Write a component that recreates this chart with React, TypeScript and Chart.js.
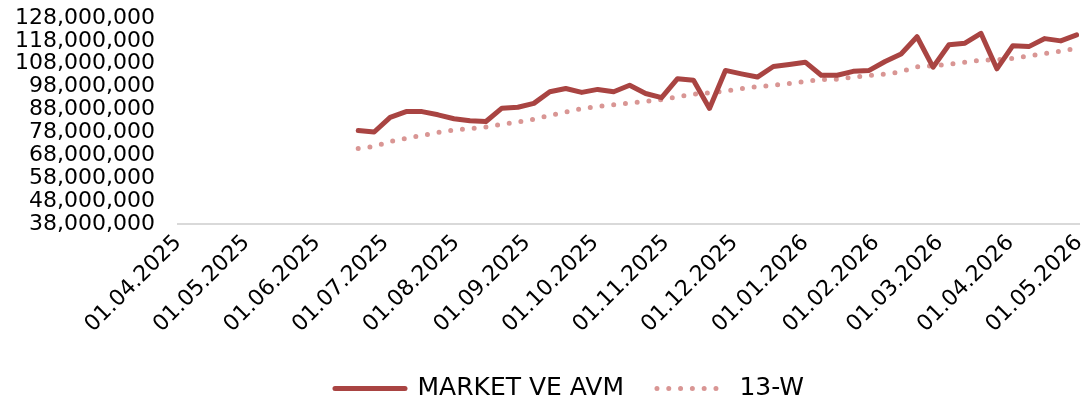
import React, { useEffect, useRef } from 'react';
import { Chart, registerables } from 'chart.js';

Chart.register(...registerables);

const weekDates = [
  '2025-06-19', '2025-06-26', '2025-07-03', '2025-07-10', '2025-07-17', '2025-07-24', '2025-07-31',
  '2025-08-07', '2025-08-14', '2025-08-21', '2025-08-28', '2025-09-04', '2025-09-11', '2025-09-18',
  '2025-09-25', '2025-10-02', '2025-10-09', '2025-10-16', '2025-10-23', '2025-10-30', '2025-11-06',
  '2025-11-13', '2025-11-20', '2025-11-27', '2025-12-04', '2025-12-11', '2025-12-18', '2025-12-25',
  '2026-01-01', '2026-01-08', '2026-01-15', '2026-01-22', '2026-01-29', '2026-02-05', '2026-02-12',
  '2026-02-19', '2026-02-26', '2026-03-05', '2026-03-12', '2026-03-19', '2026-03-26', '2026-04-02',
  '2026-04-09', '2026-04-16', '2026-04-23', '2026-04-30',
];

const marketVeAvm = [
  78800000, 78200000, 84600000, 87100000, 87100000, 85700000, 84000000,
  83100000, 82800000, 88600000, 89000000, 90700000, 95800000, 97200000,
  95500000, 96800000, 95800000, 98600000, 95000000, 93200000, 101500000,
  100800000, 88500000, 105100000, 103600000, 102200000, 106800000, 107700000,
  108700000, 103000000, 103000000, 104700000, 105100000, 109000000, 112300000,
  119800000, 106500000, 116300000, 117000000, 121300000, 105800000, 115900000,
  115500000, 119000000, 118000000, 120600000,
];

const avg13W = [
  71000000, 71800000, 74000000, 75400000, 76700000, 78000000, 79100000,
  79700000, 80400000, 81500000, 82600000, 83800000, 85400000, 86900000,
  88400000, 89300000, 90100000, 90900000, 91600000, 92300000, 93600000,
  94700000, 95300000, 96100000, 97100000, 98000000, 98600000, 99400000,
  100300000, 101100000, 101300000, 102100000, 102900000, 103500000, 104500000,
  106700000, 107100000, 107800000, 108700000, 109600000, 109800000, 110400000,
  111400000, 112500000, 113500000, 114800000,
];

const monthTicks = [
  '2025-04-01', '2025-05-01', '2025-06-01', '2025-07-01', '2025-08-01', '2025-09-01', '2025-10-01',
  '2025-11-01', '2025-12-01', '2026-01-01', '2026-02-01', '2026-03-01', '2026-04-01', '2026-05-01',
];

const yTicks = [
  38000000, 48000000, 58000000, 68000000, 78000000, 88000000, 98000000, 108000000, 118000000, 128000000,
];

const seriesNames = ['MARKET VE AVM', '13-W'];
const seriesColors = ['#A94442', '#D99694'];
const DOTS = [0, 11.8];

const FONT = 'DejaVu Sans';

const dayNum = (s: string) =>
  Date.UTC(+s.slice(0, 4), +s.slice(5, 7) - 1, +s.slice(8, 10)) / 86400000;
const fmtDate = (s: string) => `${s.slice(8, 10)}.${s.slice(5, 7)}.${s.slice(0, 4)}`;

const legendShift = {
  id: 'legendShift',
  afterLayout(chart: any) {
    const lg = chart.legend;
    if (!lg) return;
    lg.top += 4;
    lg.bottom += 4;
    lg.left += 25;
    lg.right += 25;
  },
};

export default function App() {
  const ref = useRef<HTMLCanvasElement>(null);

  useEffect(() => {
    document.body.style.margin = '0';
    const canvas = ref.current;
    if (!canvas) return;
    const tickLabelByDay: Record<number, string> = {};
    monthTicks.forEach((m) => {
      tickLabelByDay[dayNum(m)] = fmtDate(m);
    });

    const chart = new Chart(canvas, {
      type: 'line',
      plugins: [legendShift],
      data: {
        datasets: [
          {
            label: seriesNames[0],
            data: weekDates.map((d, i) => ({ x: dayNum(d), y: marketVeAvm[i] })),
            borderColor: seriesColors[0],
            backgroundColor: seriesColors[0],
            borderWidth: 5,
            borderCapStyle: 'round',
            borderJoinStyle: 'round',
            pointRadius: 0,
            tension: 0,
          },
          {
            label: seriesNames[1],
            data: weekDates.map((d, i) => ({ x: dayNum(d), y: avg13W[i] })),
            borderColor: seriesColors[1],
            backgroundColor: seriesColors[1],
            borderWidth: 5,
            borderDash: DOTS,
            borderCapStyle: 'round',
            pointRadius: 0,
            tension: 0,
          },
        ],
      },
      options: {
        animation: false,
        responsive: false,
        layout: { padding: { top: 0, right: 0, left: 0, bottom: 0 } },
        plugins: {
          tooltip: { enabled: false },
          legend: {
            position: 'bottom',
            labels: {
              usePointStyle: true,
              pointStyle: 'line',
              pointStyleWidth: 70,
              boxHeight: 20,
              padding: 33,
              color: '#000',
              font: { family: FONT, size: 25 },
              generateLabels: () =>
                seriesNames.map((name, i) => ({
                  text: name,
                  datasetIndex: i,
                  fillStyle: seriesColors[i],
                  strokeStyle: seriesColors[i],
                  lineWidth: 5,
                  lineCap: 'round',
                  lineDash: i === 1 ? DOTS : [],
                  pointStyle: 'line',
                  hidden: false,
                  fontColor: '#000',
                })),
            },
          },
        },
        scales: {
          x: {
            type: 'linear',
            min: dayNum(monthTicks[0]),
            max: dayNum(monthTicks[monthTicks.length - 1]),
            afterBuildTicks: (s: any) => {
              s.ticks = monthTicks.map((m) => ({ value: dayNum(m) }));
            },
            afterFit: (s: any) => {
              s.height = 115;
              s.paddingRight = 10;
            },
            grid: { display: false, drawTicks: false },
            border: { display: true, color: '#D9D9D9', width: 2 },
            ticks: {
              autoSkip: false,
              minRotation: 45,
              maxRotation: 45,
              padding: 6,
              color: '#000',
              font: { family: FONT, size: 22 },
              callback: (v: any) => tickLabelByDay[v] ?? '',
            },
          },
          y: {
            min: yTicks[0],
            max: yTicks[yTicks.length - 1],
            afterBuildTicks: (s: any) => {
              s.ticks = yTicks.map((v) => ({ value: v }));
            },
            afterFit: (s: any) => {
              s.width = 178;
              s.paddingTop = 18;
              s.paddingBottom = 0;
            },
            grid: { display: false, drawTicks: false },
            border: { display: false },
            ticks: {
              autoSkip: false,
              padding: 23,
              color: '#000',
              font: { family: FONT, size: 22 },
              callback: (v: any) => Number(v).toLocaleString('en-US'),
            },
          },
        },
      },
    });
    return () => chart.destroy();
  }, []);

  return (
    <div style={{ width: 1089, height: 407 }}>
      <canvas ref={ref} width={1089} height={407} style={{ display: 'block' }} />
    </div>
  );
}
